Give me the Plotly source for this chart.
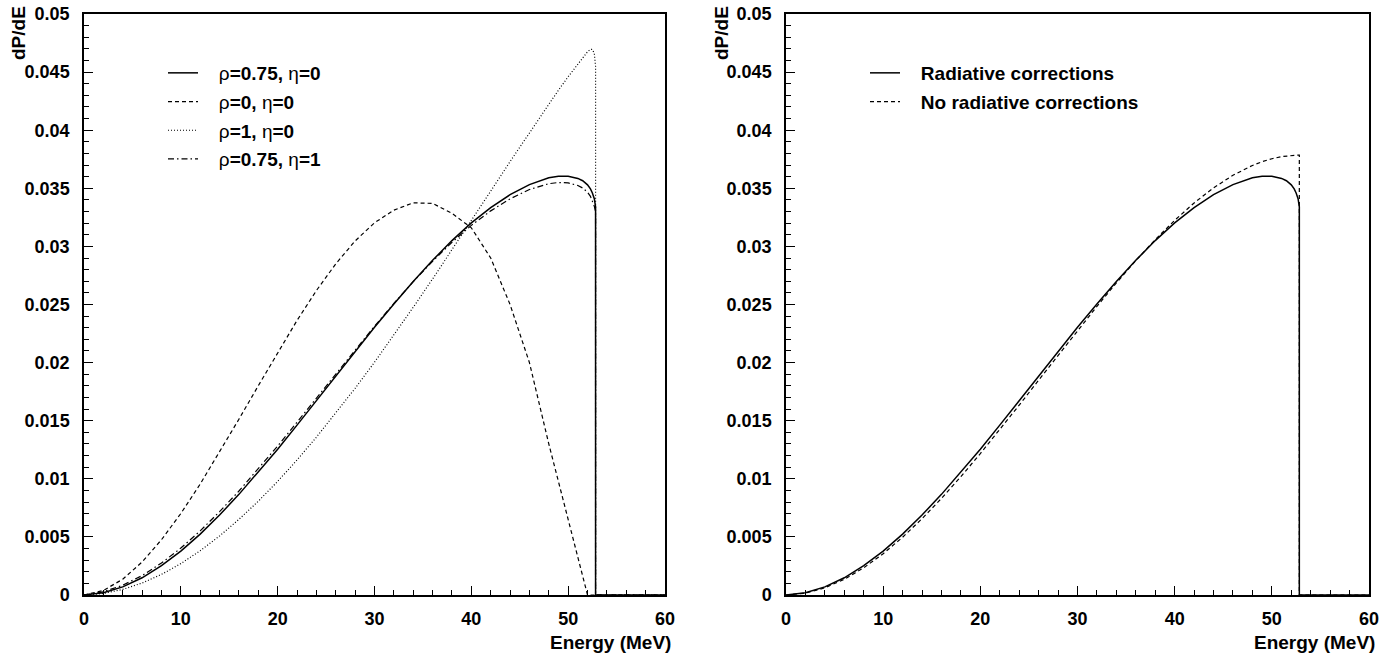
import plotly.graph_objects as go

# Energy grid (MeV); endpoint 52.83 MeV, then the spectrum is zero up to 60
energy = [0, 2, 4, 6, 8, 10, 12, 14, 16, 18, 20, 22, 24, 26, 28, 30, 32, 34, 36, 38,
          40, 42, 44, 46, 48, 49, 50, 51, 51.5, 52, 52.3, 52.5, 52.7, 52.8, 52.83, 52.83, 60]

# Left panel: radiatively corrected spectra for various Michel parameters
rho075_eta0 = [0, 0.00020, 0.00070, 0.00148, 0.00252, 0.00378, 0.00524, 0.00688, 0.00866, 0.01056,
               0.01255, 0.01462, 0.01673, 0.01886, 0.02097, 0.02304, 0.02505, 0.02698, 0.02880, 0.03050,
               0.03202, 0.03334, 0.03445, 0.03532, 0.03590, 0.03603, 0.03604, 0.03585, 0.03565, 0.03530,
               0.03495, 0.03460, 0.03410, 0.03370, 0.03340, 0, 0]
rho0_eta0 = [0, 0.00039, 0.00136, 0.00284, 0.00476, 0.00701, 0.00955, 0.01229, 0.01513, 0.01801,
             0.02086, 0.02363, 0.02620, 0.02850, 0.03047, 0.03203, 0.03312, 0.03375, 0.03370, 0.03285,
             0.03160, 0.02900, 0.02500, 0.02000, 0.01300, 0.00980, 0.00650, 0.00320, 0.00160, 0,
             0, 0, 0, 0, 0, 0, 0]
rho1_eta0 = [0, 0.000135, 0.00048, 0.00103, 0.00177, 0.00270, 0.00381, 0.00508, 0.00651, 0.00807,
             0.00978, 0.01162, 0.01358, 0.01564, 0.01779, 0.02003, 0.02235, 0.02476, 0.02720, 0.02969,
             0.03222, 0.03475, 0.03730, 0.03980, 0.04225, 0.04345, 0.04460, 0.04570, 0.04625, 0.04675,
             0.04695, 0.04695, 0.04660, 0.04600, 0.04550, 0, 0]
rho075_eta1 = [0, 0.000275, 0.000838, 0.001669, 0.002749, 0.004039, 0.005518, 0.007169, 0.00895, 0.010843,
               0.012819, 0.014866, 0.016946, 0.019041, 0.021109, 0.023131, 0.025089, 0.026961, 0.028721, 0.030355,
               0.031808, 0.033058, 0.034095, 0.034892, 0.035397, 0.035500, 0.035464, 0.035241, 0.035026, 0.034662,
               0.034307, 0.033956, 0.033457, 0.033065, 0.032765, 0, 0]

# Right panel
with_rc = rho075_eta0
no_rc = [0, 0.000159, 0.000618, 0.001354, 0.002341, 0.003556, 0.004972, 0.006567, 0.008314, 0.010189,
         0.012169, 0.014227, 0.016340, 0.018482, 0.020630, 0.022758, 0.024842, 0.026857, 0.028779, 0.030583,
         0.032243, 0.033737, 0.035038, 0.036122, 0.036966, 0.037289, 0.037543, 0.037724, 0.037787, 0.037830,
         0.037846, 0.037852, 0.037856, 0.037857, 0.037857, 0, 0]

x_ticks = [0, 10, 20, 30, 40, 50, 60]
y_ticks = [0, 0.005, 0.01, 0.015, 0.02, 0.025, 0.03, 0.035, 0.04, 0.045, 0.05]
y_ticktext = ["0", "0.005", "0.01", "0.015", "0.02", "0.025", "0.03", "0.035", "0.04", "0.045", "0.05"]

left_names = ["ρ<b>=0.75, </b>η<b>=0</b>", "ρ<b>=0, </b>η<b>=0</b>",
              "ρ<b>=1, </b>η<b>=0</b>", "ρ<b>=0.75, </b>η<b>=1</b>"]
right_names = ["<b>Radiative corrections</b>", "<b>No radiative corrections</b>"]

FONT = "Liberation Sans, Arial, Helvetica, sans-serif"
W, H = 1396, 658
PAD = "&nbsp;&nbsp;&nbsp;"

fig = go.Figure()

left_series = [rho075_eta0, rho0_eta0, rho1_eta0, rho075_eta1]
left_dash = ["solid", "4px,3px", "1px,2px", "6px,3px,1.5px,3px"]
left_width = [1.5, 1.2, 1.2, 1.2]
for i, (ys, d, w, nm) in enumerate(zip(left_series, left_dash, left_width, left_names)):
    fig.add_trace(go.Scatter(x=energy, y=ys, mode="lines", name=PAD + nm,
                             line=dict(color="black", width=w, dash=d),
                             xaxis="x", yaxis="y", legend="legend",
                             legendgroup="L%d" % i, hoverinfo="skip"))

right_series = [with_rc, no_rc]
right_dash = ["solid", "4px,3px"]
right_width = [1.5, 1.2]
for i, (ys, d, w, nm) in enumerate(zip(right_series, right_dash, right_width, right_names)):
    fig.add_trace(go.Scatter(x=energy, y=ys, mode="lines", name=PAD + nm,
                             line=dict(color="black", width=w, dash=d),
                             xaxis="x2", yaxis="y2", legend="legend2",
                             legendgroup="R%d" % i, hoverinfo="skip"))

ydom = [1 - 595 / H, 1 - 14 / H]
xdom1 = [84 / W, 665 / W]
xdom2 = [786 / W, 1369 / W]

tickfont = dict(family=FONT, size=18, color="black", weight="bold")

def xaxis(domain, anchor):
    return dict(domain=domain, anchor=anchor, range=[0, 60], tickvals=x_ticks,
                ticks="inside", ticklen=9, tickwidth=1, tickcolor="black",
                minor=dict(dtick=2, ticks="inside", ticklen=5, tickwidth=1, tickcolor="black"),
                showline=True, linewidth=1.5, linecolor="black", mirror=True,
                showgrid=False, zeroline=False, tickfont=tickfont, ticklabelstandoff=7,
                automargin=False)

def yaxis(anchor):
    return dict(domain=ydom, anchor=anchor, range=[0, 0.05], tickvals=y_ticks, ticktext=y_ticktext,
                ticks="inside", ticklen=9, tickwidth=1, tickcolor="black",
                minor=dict(dtick=0.001, ticks="inside", ticklen=5, tickwidth=1, tickcolor="black"),
                showline=True, linewidth=1.5, linecolor="black", mirror=True,
                showgrid=False, zeroline=False, tickfont=tickfont, ticklabelstandoff=9,
                automargin=False)

legfont = dict(family=FONT, size=19, color="black")

fig.update_layout(
    width=W, height=H, margin=dict(l=0, r=0, t=0, b=0, autoexpand=False),
    paper_bgcolor="white", plot_bgcolor="white", showlegend=True,
    xaxis=xaxis(xdom1, "y"), yaxis=yaxis("x"),
    xaxis2=xaxis(xdom2, "y2"), yaxis2=yaxis("x2"),
    legend=dict(x=163 / W, y=1 - 54 / H, xanchor="left", yanchor="top",
                bgcolor="rgba(0,0,0,0)", font=legfont, traceorder="grouped",
                tracegroupgap=1),
    legend2=dict(x=865 / W, y=1 - 54 / H, xanchor="left", yanchor="top",
                 bgcolor="rgba(0,0,0,0)", font=legfont, traceorder="grouped",
                 tracegroupgap=1),
    annotations=[
        dict(text="<b>dP/dE</b>", textangle=-90, xref="paper", yref="paper",
             x=18 / W, y=1 - 33 / H, xanchor="center", yanchor="middle", showarrow=False,
             font=dict(family=FONT, size=19, color="black")),
        dict(text="<b>dP/dE</b>", textangle=-90, xref="paper", yref="paper",
             x=721 / W, y=1 - 33 / H, xanchor="center", yanchor="middle", showarrow=False,
             font=dict(family=FONT, size=19, color="black")),
        dict(text="<b>Energy (MeV)</b>", xref="paper", yref="paper",
             x=673 / W, y=1 - 642 / H, xanchor="right", yanchor="middle", showarrow=False,
             font=dict(family=FONT, size=19, color="black")),
        dict(text="<b>Energy (MeV)</b>", xref="paper", yref="paper",
             x=1377 / W, y=1 - 642 / H, xanchor="right", yanchor="middle", showarrow=False,
             font=dict(family=FONT, size=19, color="black")),
    ],
)

fig.write_html("out.html")
